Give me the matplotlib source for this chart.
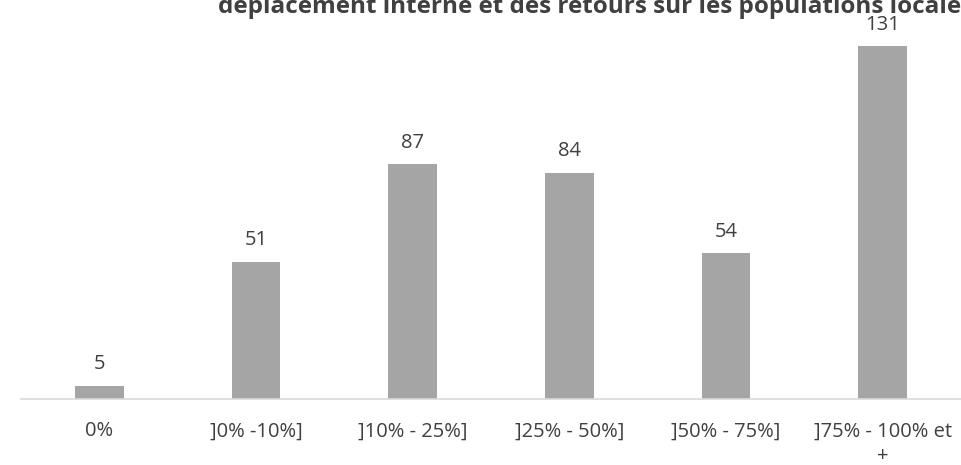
import matplotlib.pyplot as plt
import numpy as np

categories = ["0%", "]0% -10%]", "]10% - 25%]", "]25% - 50%]", "]50% - 75%]", "]75% - 100% et\n+"]
values = [5, 51, 87, 84, 54, 131]
title = "déplacement interne et des retours sur les populations locales"

plt.rcParams['font.family'] = ['Open Sans', 'DejaVu Sans']

fig = plt.figure(figsize=(9.61, 4.65), dpi=100)
ax = fig.add_axes([21/961, 1-399/465, 940/961, 399/465])

x = np.arange(len(categories))
bars = ax.bar(x, values, width=0.31, color="#a5a5a5")
for xi, v in zip(x, values):
    ax.annotate(str(v), (xi, v), xytext=(0, 8), textcoords="offset points",
                ha="center", va="bottom", fontsize=14.5, color="#404040")

ax.set_xlim(-0.5, len(categories)-0.5)
ax.set_ylim(0, 148)
ax.set_yticks([])
ax.set_xticks(x)
ax.set_xticklabels(categories, fontsize=14.5, color="#404040", linespacing=1.35)
ax.tick_params(axis="x", length=0, pad=16)
for s in ["top", "left", "right"]:
    ax.spines[s].set_visible(False)
ax.spines["bottom"].set_color("#d9d9d9")
ax.spines["bottom"].set_linewidth(1.2)
ax.patch.set_visible(False)

fig.text(218/961, 1-13/465, title, ha="left", va="baseline",
         fontsize=17.5, fontweight="bold", color="#404040")

fig.savefig("out.png", dpi=100)
